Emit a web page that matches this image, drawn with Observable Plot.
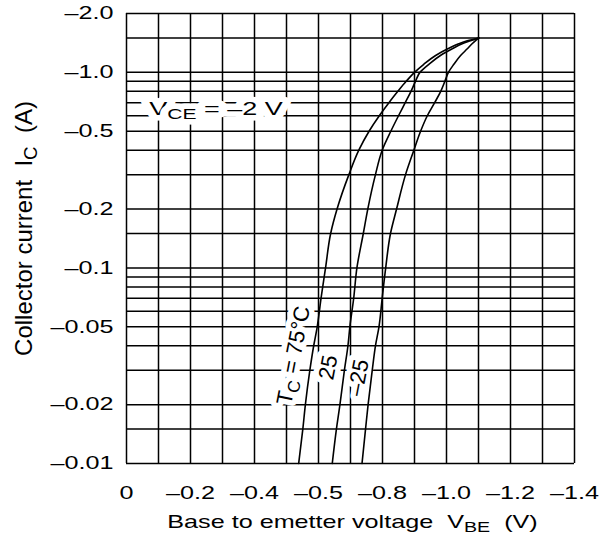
<!DOCTYPE html>
<html><head><meta charset="utf-8">
<script src="https://cdn.jsdelivr.net/npm/d3@7"></script>
<script src="https://cdn.jsdelivr.net/npm/@observablehq/plot@0.6"></script>
<style>html,body{margin:0;padding:0;background:#fff;} svg text{white-space:pre}</style>
</head><body><div id="chart"></div>
<script>
// Collector current |IC| (A) and base-emitter voltage |VBE| (V), three case temperatures
const currents = [0.01,0.015,0.02,0.03,0.04,0.05,0.07,0.1,0.15,0.2,0.3,0.4,0.5,0.6,0.7,0.8,0.9,1.0,1.1,1.22,1.32,1.4,1.45,1.5];
const voltage75 = [0.538,0.551,0.559,0.573,0.585,0.596,0.608,0.622,0.638,0.658,0.695,0.726,0.758,0.79,0.82,0.848,0.874,0.9,0.929,0.966,1.004,1.038,1.065,1.101];
const voltage25 = [0.643,0.656,0.667,0.681,0.692,0.698,0.71,0.72,0.74,0.754,0.778,0.799,0.826,0.85,0.871,0.889,0.903,0.917,0.945,0.981,1.018,1.049,1.075,1.101];
const voltageM25 = [0.736,0.747,0.755,0.768,0.778,0.789,0.799,0.81,0.825,0.844,0.872,0.898,0.919,0.94,0.963,0.982,0.995,1.006,1.023,1.044,1.065,1.08,1.09,1.101];

const xGrid = [0,0.1,0.2,0.3,0.4,0.5,0.6,0.7,0.8,0.9,1.0,1.1,1.2,1.3,1.4];
const yGrid = [0.01,0.015,0.02,0.03,0.04,0.05,0.06,0.07,0.08,0.09,0.1,0.15,0.2,0.3,0.4,0.5,0.6,0.7,0.8,0.9,1,1.5,2];
const xTicks = [0,0.2,0.4,0.6,0.8,1.0,1.2,1.4];
const xTickLabels = ["0","\u20130.2","\u20130.4","\u20130.5","\u20130.8","\u20131.0","\u20131.2","\u20131.4"];
const yTicks = [2,1,0.5,0.2,0.1,0.05,0.02,0.01];
const yTickLabels = ["\u20132.0","\u20131.0","\u20130.5","\u20130.2","\u20130.1","\u20130.05","\u20130.02","\u20130.01"];

const curveLabels = ["T_{C}\u00a0=\u00a075\u00b0C", "25", "\u201325"];
const curveLabelV = [0.522, 0.631, 0.725];
const curveLabelI = [0.0357, 0.031, 0.0275];
const conditionLabel = ["V_{CE}\u00a0=\u00a0\u20132\u00a0V"];
const conditionV = [0.28];
const conditionI = [0.65];
const xTitle = "Base to emetter voltage\u00a0\u00a0V_{BE}\u00a0\u00a0(V)";
const yTitle = "Collector current\u00a0\u00a0I_{C}\u00a0\u00a0(A)";

const rows = [
  ...currents.map((I, i) => ({T: "75", V: voltage75[i], I})),
  ...currents.map((I, i) => ({T: "25", V: voltage25[i], I})),
  ...currents.map((I, i) => ({T: "-25", V: voltageM25[i], I}))
];

const plot = Plot.plot({
  width: 609, height: 547,
  marginLeft: 126, marginRight: 35, marginTop: 13, marginBottom: 84,
  style: {fontFamily: "'Liberation Sans', Arial, sans-serif", fontSize: "18px", background: "white", color: "black"},
  x: {domain: [0, 1.4], axis: null},
  y: {type: "log", domain: [0.01, 2], axis: null},
  marks: [
    Plot.ruleX(xGrid, {x: d => d, stroke: "black", strokeWidth: 1.5}),
    Plot.ruleY(yGrid, {y: d => d, stroke: "black", strokeWidth: 1.5}),
    Plot.text(conditionLabel, {x: (d, i) => conditionV[i], y: (d, i) => conditionI[i], text: d => d,
      textAnchor: "middle", lineAnchor: "middle", fontSize: 18, fill: "black"}),
    Plot.text(curveLabels, {x: (d, i) => curveLabelV[i], y: (d, i) => curveLabelI[i], text: d => d,
      rotate: -79, textAnchor: "middle", lineAnchor: "middle", fontSize: 22, fill: "black"}),
    Plot.line(rows, {x: "V", y: "I", z: "T", stroke: "black", strokeWidth: 1.6, curve: "monotone-y"}),
    Plot.text(xTicks, {x: d => d, text: (d, i) => xTickLabels[i], frameAnchor: "bottom", dy: 35,
      textAnchor: "middle", lineAnchor: "bottom", fontSize: 18}),
    Plot.text(yTicks, {y: d => d, text: (d, i) => yTickLabels[i], frameAnchor: "left", dx: -13,
      textAnchor: "end", lineAnchor: "middle", fontSize: 18}),
    Plot.text([xTitle], {text: d => d, frameAnchor: "bottom", dy: 64, dx: 2,
      textAnchor: "middle", lineAnchor: "bottom", fontSize: 18}),
    Plot.text([yTitle], {text: d => d, frameAnchor: "left", dx: -95, dy: -10, rotate: -90,
      textAnchor: "middle", lineAnchor: "bottom", fontSize: 24})
  ]
});
document.getElementById("chart").appendChild(plot);

const NS = "http://www.w3.org/2000/svg";
function rich(el) {
  const s = el.textContent;
  if (!s.includes("_{")) return;
  el.textContent = "";
  const parts = s.split(/(_\{[^}]*\})/).filter(p => p);
  let prevSub = false;
  for (const p of parts) {
    const t = document.createElementNS(NS, "tspan");
    if (p.startsWith("_{")) {
      t.textContent = p.slice(2, -1);
      t.setAttribute("font-size", "78%");
      t.setAttribute("dy", "0.3em");
      prevSub = true;
    } else {
      t.textContent = p;
      if (prevSub) t.setAttribute("dy", "-0.234em");
      prevSub = false;
    }
    el.appendChild(t);
  }
}
const wideScale = new Map([...xTickLabels, ...yTickLabels, xTitle].map(s => [s, 1.4]));
conditionLabel.forEach(s => wideScale.set(s, 1.5));
const haloSet = new Set([...conditionLabel, ...curveLabels]);
d3.select(plot).selectAll("text").each(function() {
  const s = this.textContent;
  rich(this);
  if (haloSet.has(s)) {
    this.setAttribute("stroke", "white");
    this.setAttribute("stroke-width", "11");
    this.setAttribute("stroke-linejoin", "round");
    this.setAttribute("paint-order", "stroke");
    this.setAttribute("fill", "black");
    this.style.stroke = "white";
    this.style.strokeWidth = "11px";
    this.style.paintOrder = "stroke";
  }
  if (wideScale.has(s)) {
    const k = wideScale.get(s);
    const bb = this.getBBox();
    const anchor = getComputedStyle(this).textAnchor;
    const ax = anchor === "middle" ? bb.x + bb.width / 2 : anchor === "end" ? bb.x + bb.width : bb.x;
    const tr = this.getAttribute("transform") || "";
    this.setAttribute("transform", `${tr} translate(${ax},0) scale(${k},1) translate(${-ax},0)`);
  }
});
</script></body></html>
